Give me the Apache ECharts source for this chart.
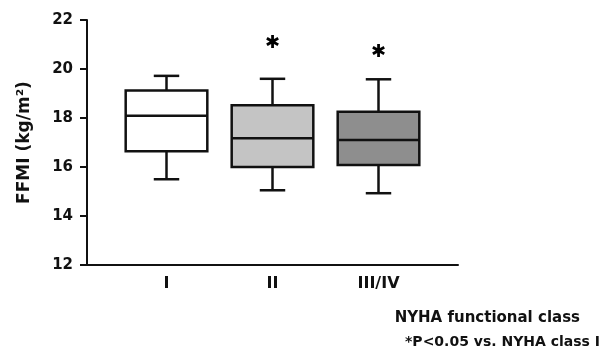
<!DOCTYPE html>
<html>
<head>
<meta charset="utf-8">
<script src="https://cdn.jsdelivr.net/npm/echarts@6/dist/echarts.min.js"></script>
<style>
html,body{margin:0;padding:0;background:#fff;}
#chart{width:612px;height:359px;}
</style>
</head>
<body>
<div id="chart"></div>
<script>
// Data
const categories = ['I', 'II', 'III/IV'];
const whiskerMin = [15.5, 15.05, 14.93];
const q1 = [16.64, 16.0, 16.08];
const median = [18.09, 17.17, 17.1];
const q3 = [19.12, 18.52, 18.26];
const whiskerMax = [19.72, 19.6, 19.58];
const sigMarkY = [null, 21.04, 20.7];
const yTicks = [12, 14, 16, 18, 20, 22];

const fills = ['#ffffff', '#c4c4c4', '#8e8e8e'];
const FONT = '"DejaVu Sans", sans-serif';

const boxData = categories.map((c, i) => [i + 1, whiskerMin[i], q1[i], median[i], q3[i], whiskerMax[i]]);
const sigData = categories.map((c, i) => [i + 1, sigMarkY[i]]).filter(d => d[1] !== null);

const chart = echarts.init(document.getElementById('chart'), null, {renderer: 'canvas'});

const option = {
  animation: false,
  backgroundColor: '#ffffff',
  grid: {left: 87, right: 154, top: 20, bottom: 94, containLabel: false},
  xAxis: {
    type: 'value',
    min: 0.25,
    max: 3.75,
    splitLine: {show: false},
    axisLine: {show: true, lineStyle: {color: '#111', width: 2}},
    axisTick: {show: false},
    axisLabel: {
      show: true,
      customValues: categories.map((c, i) => i + 1),
      formatter: v => categories[Math.round(v) - 1] || '',
      color: '#111',
      fontFamily: FONT,
      fontWeight: 'bold',
      fontSize: 16,
      margin: 11
    }
  },
  yAxis: {
    type: 'value',
    min: yTicks[0],
    max: yTicks[yTicks.length - 1],
    interval: 2,
    name: 'FFMI (kg/m²)',
    nameLocation: 'middle',
    nameGap: 54,
    nameRotate: 90,
    nameTextStyle: {color: '#111', fontFamily: FONT, fontWeight: 'bold', fontSize: 17},
    splitLine: {show: false},
    axisLine: {show: true, lineStyle: {color: '#111', width: 2}},
    axisTick: {show: true, length: 7, lineStyle: {color: '#111', width: 2}},
    axisLabel: {color: '#111', fontFamily: FONT, fontWeight: 'bold', fontSize: 15, margin: 14}
  },
  series: [
    {
      type: 'custom',
      data: boxData,
      encode: {x: 0, y: [1, 2, 3, 4, 5]},
      renderItem: function (params, api) {
        const x = api.value(0);
        const pMin = api.coord([x, api.value(1)]);
        const pQ1 = api.coord([x, api.value(2)]);
        const pMed = api.coord([x, api.value(3)]);
        const pQ3 = api.coord([x, api.value(4)]);
        const pMax = api.coord([x, api.value(5)]);
        const w = api.size([0.77, 0])[0];
        const cw = api.size([0.24, 0])[0];
        const cx = pMed[0];
        const st = {stroke: '#111', lineWidth: 2.5, fill: null};
        return {
          type: 'group',
          children: [
            {type: 'line', shape: {x1: cx, y1: pQ3[1], x2: cx, y2: pMax[1]}, style: st},
            {type: 'line', shape: {x1: cx, y1: pQ1[1], x2: cx, y2: pMin[1]}, style: st},
            {type: 'line', shape: {x1: cx - cw / 2, y1: pMax[1], x2: cx + cw / 2, y2: pMax[1]}, style: st},
            {type: 'line', shape: {x1: cx - cw / 2, y1: pMin[1], x2: cx + cw / 2, y2: pMin[1]}, style: st},
            {type: 'rect', shape: {x: cx - w / 2, y: pQ3[1], width: w, height: pQ1[1] - pQ3[1]},
              style: {fill: fills[params.dataIndex], stroke: '#111', lineWidth: 2.5}},
            {type: 'line', shape: {x1: cx - w / 2, y1: pMed[1], x2: cx + w / 2, y2: pMed[1]}, style: st}
          ]
        };
      }
    },
    {
      type: 'scatter',
      data: sigData,
      symbolSize: 0,
      itemStyle: {opacity: 1},
      label: {
        show: true,
        position: 'inside',
        formatter: '✱',
        color: '#000',
        opacity: 1,
        fontFamily: '"DejaVu Sans", sans-serif',
        fontSize: 18
      }
    }
  ],
  graphic: [
    {type: 'text', right: 32, top: 311, style: {text: 'NYHA functional class', fill: '#111', font: 'bold 15px ' + FONT}},
    {type: 'text', right: 12, top: 335, style: {text: '*P<0.05 vs. NYHA class I', fill: '#111', font: 'bold 14px ' + FONT}}
  ]
};
chart.setOption(option);
</script>
</body>
</html>
